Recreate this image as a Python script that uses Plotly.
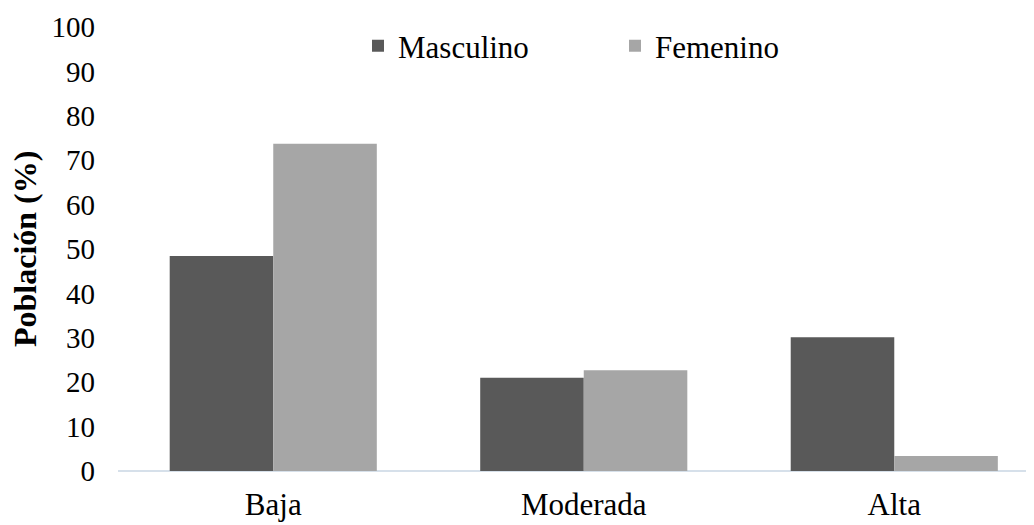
import plotly.graph_objects as go

categories = ["Baja", "Moderada", "Alta"]
masculino = [48.4, 21.0, 30.1]
femenino = [73.7, 22.7, 3.4]
y_ticks = [0, 10, 20, 30, 40, 50, 60, 70, 80, 90, 100]

FONT = "Liberation Serif, Times New Roman, serif"
FS = 31

fig = go.Figure()
fig.add_trace(go.Bar(name="Masculino", x=categories, y=masculino,
                     marker=dict(color="#595959", line=dict(width=0))))
fig.add_trace(go.Bar(name="Femenino", x=categories, y=femenino,
                     marker=dict(color="#a6a6a6", line=dict(width=0))))

fig.update_layout(
    width=1026, height=517,
    margin=dict(l=110, r=0, t=19, b=54),
    paper_bgcolor="white", plot_bgcolor="white",
    barmode="group", bargap=0.333, bargroupgap=0,
    font=dict(family=FONT, size=FS, color="black"),
    legend=dict(orientation="h", x=0.262, y=0.957, xanchor="left", yanchor="middle",
                font=dict(family=FONT, size=FS, color="black"),
                entrywidth=212, itemwidth=30, bgcolor="rgba(0,0,0,0)"),
    xaxis=dict(range=[-0.5, 2.45], showgrid=False, showline=False, zeroline=False,
               ticks="", ticklabelstandoff=12,
               tickfont=dict(family=FONT, size=FS, color="black")),
    yaxis=dict(range=[0, 100], tickvals=y_ticks, showgrid=False, zeroline=True,
               zerolinecolor="#d6e0ea", zerolinewidth=1.5, showline=False,
               ticks="", ticklabelstandoff=22,
               tickfont=dict(family=FONT, size=29, color="black")),
    annotations=[dict(text="<b>Población (%)</b>", textangle=-90,
                      xref="paper", yref="paper", x=(25 - 118) / 916, y=0.5,
                      showarrow=False, xanchor="center", yanchor="middle",
                      font=dict(family=FONT, size=32, color="black"))],
)

fig.write_html("out.html")
